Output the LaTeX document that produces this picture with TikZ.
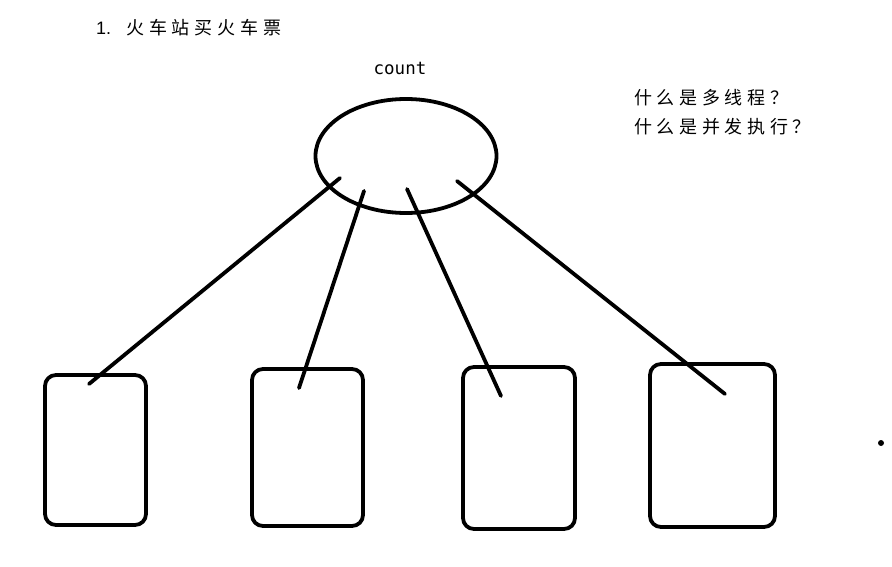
\documentclass[tikz,border=0pt]{standalone}
\usepackage{fontspec}
\setmainfont{Liberation Sans}
\setmonofont{DejaVu Sans Mono}
\newfontfamily\cjktitle[LetterSpace=27]{Noto Sans CJK SC}
\newfontfamily\cjkq[LetterSpace=26]{Noto Sans CJK SC}
\usetikzlibrary{shapes.geometric}
\begin{document}
\begin{tikzpicture}[x=1pt,y=-1pt,
  stroke/.style={line width=3.8pt,line cap=round},
  card/.style={stroke,rounded corners=11pt},
  label/.style={inner sep=0pt,anchor=west}]
\useasboundingbox (0,0) rectangle (892,567);
% title
\node[label,font=\fontsize{18}{18}\selectfont] (title) at (96,28) {1.\hspace{15pt}{\cjktitle 火车站买火车票}};
\node[inner sep=0pt,font=\ttfamily\fontsize{17.5}{17.5}\selectfont] (cnt) at (400,68) {count};
\node[label,font=\cjkq\fontsize{18}{18}\selectfont] (q1) at (634,98) {什么是多线程？};
\node[label,font=\cjkq\fontsize{18}{18}\selectfont] (q2) at (634,127) {什么是并发执行？};
% ellipse
\node[stroke,draw,ellipse,minimum width=181pt,minimum height=114pt,inner sep=0pt] (e) at (406,156) {};
% cards
\draw[card] (45,375) rectangle (146,525);
\draw[card] (252,369) rectangle (363,526);
\draw[card] (463,367) rectangle (575,529);
\draw[card] (650,364) rectangle (775,527);
\node[inner sep=0pt,minimum width=101pt,minimum height=150pt] (b1) at (95.5,450) {};
\node[inner sep=0pt,minimum width=111pt,minimum height=157pt] (b2) at (307.5,447.5) {};
\node[inner sep=0pt,minimum width=112pt,minimum height=162pt] (b3) at (519,448) {};
\node[inner sep=0pt,minimum width=125pt,minimum height=163pt] (b4) at (712.5,445.5) {};
% connector endpoints
\coordinate (s1) at (340,178);
\coordinate (s2) at (364,191);
\coordinate (s3) at (407,189);
\coordinate (s4) at (457,181);
\coordinate (t1) at (89,384);
\coordinate (t2) at (299,388);
\coordinate (t3) at (501,396);
\coordinate (t4) at (725,394);
\draw[stroke] (s1) -- (t1);
\draw[stroke] (s2) -- (t2);
\draw[stroke] (s3) -- (t3);
\draw[stroke] (s4) -- (t4);
% dot
\fill (881,443) circle (3pt);
\end{tikzpicture}
\end{document}
